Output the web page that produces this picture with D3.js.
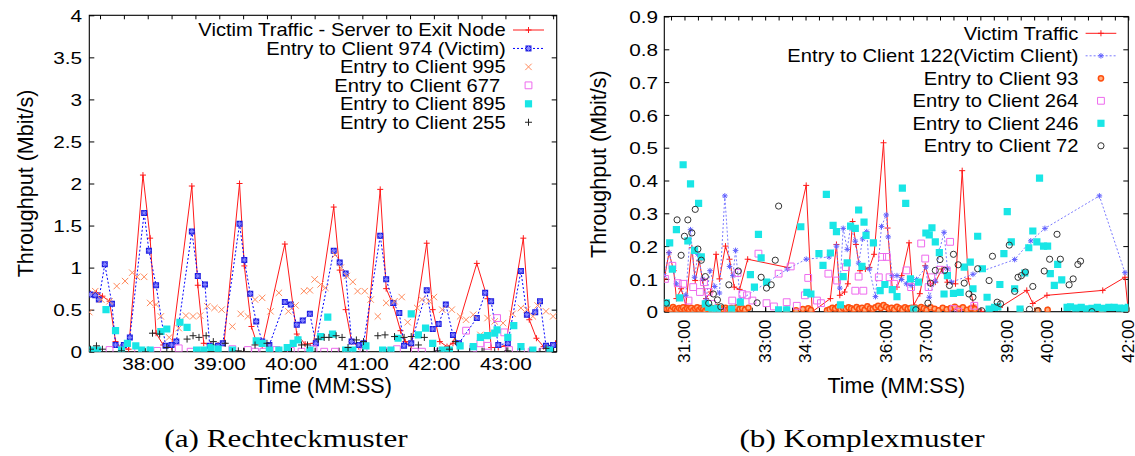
<!DOCTYPE html>
<html><head><meta charset="utf-8">
<script src="https://cdn.jsdelivr.net/npm/d3@7"></script>
<style>body{margin:0;background:#fff}svg text{white-space:pre}</style>
</head><body>
<svg id="c" width="1135" height="456"></svg>
<script>
// ================= DATA: panel (a) Rechteckmuster (time in seconds, value in Mbit/s) =================
const aXTicks = [2280, 2340, 2400, 2460, 2520, 2580];
const aXTickLabels = ["38:00", "39:00", "40:00", "41:00", "42:00", "43:00"];
const aYTicks = [0, 0.5, 1, 1.5, 2, 2.5, 3, 3.5, 4];
const aYTickLabels = ["0", "0.5", "1", "1.5", "2", "2.5", "3", "3.5", "4"];
const aLegend = ["Victim Traffic - Server to Exit Node", "Entry to Client 974 (Victim)", "Entry to Client 995", "Entry to Client 677 ", "Entry to Client 895", "Entry to Client 255"];

const aVictimTraffic = [[2232,0.69],[2237,0.70],[2242,0.66],[2248,0.60],[2253,0.12],[2258,0.04],[2264,0.03],[2276,2.10],[2282,1.35],[2287,0.22],[2293,0.08],[2300,0.06],[2317,1.97],[2322,0.79],[2327,0.10],[2333,0.08],[2339,0.08],[2344,0.10],[2357,2.00],[2361,1.02],[2367,0.30],[2371,0.12],[2376,0.07],[2395,1.28],[2405,0.21],[2412,0.09],[2419,0.10],[2436,1.72],[2441,0.97],[2446,0.50],[2451,0.12],[2457,0.06],[2463,0.10],[2475,1.93],[2480,0.75],[2486,0.55],[2492,0.25],[2496,0.12],[2501,0.07],[2514,1.29],[2519,0.50],[2525,0.12],[2531,0.06],[2536,0.10],[2556,1.05],[2565,0.63],[2568,0.05],[2574,0.05],[2580,0.07],[2595,1.35],[2600,0.38],[2606,0.16],[2612,0.06],[2618,0.07],[2622,0.10]];
const aClient974 = [[2232,0.68],[2236,0.67],[2239,0.62],[2244,1.04],[2250,0.57],[2253,0.08],[2260,0.08],[2265,0.17],[2277,1.65],[2281,1.20],[2287,0.79],[2295,0.07],[2300,0.08],[2304,0.12],[2317,1.43],[2322,0.90],[2328,0.80],[2332,0.07],[2339,0.07],[2343,0.10],[2357,1.52],[2361,1.09],[2366,0.69],[2371,0.36],[2376,0.12],[2382,0.08],[2395,0.59],[2400,0.56],[2405,0.32],[2410,0.37],[2416,0.45],[2421,0.10],[2436,1.20],[2441,1.06],[2446,0.93],[2451,0.12],[2457,0.08],[2461,0.10],[2475,1.38],[2480,0.86],[2486,0.58],[2491,0.46],[2495,0.07],[2501,0.10],[2514,0.73],[2519,0.27],[2524,0.33],[2530,0.56],[2536,0.20],[2541,0.10],[2556,0.40],[2563,0.70],[2568,0.60],[2574,0.08],[2582,0.10],[2593,0.96],[2598,0.44],[2605,0.47],[2609,0.60],[2614,0.07],[2620,0.08]];
const aClient995 = [[2231,0.47],[2236,0.72],[2241,0.62],[2248,0.60],[2254,0.78],[2261,0.84],[2267,0.94],[2271,0.89],[2277,0.89],[2282,0.58],[2287,0.56],[2291,0.42],[2298,0.17],[2306,0.28],[2312,0.43],[2318,0.42],[2324,0.43],[2330,0.54],[2336,0.52],[2342,0.50],[2351,0.30],[2358,0.45],[2364,0.42],[2370,0.62],[2376,0.64],[2383,0.48],[2390,0.70],[2398,0.48],[2404,0.55],[2411,0.72],[2416,0.73],[2420,0.86],[2425,0.80],[2429,0.76],[2437,1.15],[2442,1.00],[2447,0.90],[2452,0.83],[2456,0.72],[2462,0.72],[2467,0.62],[2473,0.42],[2480,0.58],[2487,0.60],[2493,0.65],[2498,0.35],[2506,0.52],[2510,0.62],[2516,0.60],[2520,0.65],[2527,0.50],[2535,0.50],[2542,0.42],[2547,0.38],[2553,0.44],[2559,0.20],[2565,0.40],[2571,0.36],[2578,0.34],[2586,0.45],[2593,0.52],[2598,0.50],[2603,0.42],[2607,0.55],[2614,0.48],[2620,0.42]];
const aClient677 = [[2237,0.0],[2248,0.02],[2272,0.0],[2288,0.01],[2306,0.04],[2316,0.0],[2351,0.03],[2364,0.02],[2370,0.0],[2377,0.0],[2388,0.02],[2400,0.01],[2409,0.0],[2419,0.03],[2428,0.0],[2437,0.0],[2448,0.0],[2461,0.0],[2480,0.0],[2489,0.03],[2504,0.0],[2510,0.0],[2525,0.0],[2547,0.25],[2553,0.04],[2559,0.10],[2565,0.07],[2573,0.40],[2579,0.23],[2583,0.02],[2593,0.0],[2602,0.0],[2611,0.0]];
const aClient895 = [[2232,0.02],[2238,0.02],[2245,0.50],[2253,0.25],[2258,0.02],[2263,0.10],[2270,0.07],[2275,0.02],[2282,0.02],[2291,0.24],[2296,0.27],[2307,0.35],[2313,0.29],[2321,0.02],[2327,0.02],[2333,0.05],[2339,0.03],[2351,0.02],[2371,0.13],[2376,0.10],[2382,0.02],[2390,0.02],[2397,0.05],[2402,0.10],[2406,0.14],[2416,0.02],[2425,0.18],[2431,0.41],[2435,0.21],[2446,0.02],[2452,0.02],[2463,0.07],[2477,0.02],[2484,0.02],[2490,0.16],[2501,0.45],[2507,0.20],[2513,0.28],[2519,0.10],[2527,0.02],[2533,0.02],[2542,0.07],[2553,0.06],[2559,0.17],[2565,0.19],[2571,0.22],[2573,0.26],[2582,0.17],[2587,0.31],[2593,0.06],[2603,0.02],[2617,0.02]];
const aClient255 = [[2232,0.03],[2237,0.07],[2242,0.03],[2258,0.01],[2278,0.0],[2284,0.22],[2290,0.21],[2296,0.05],[2313,0.15],[2318,0.19],[2323,0.17],[2329,0.19],[2335,0.12],[2345,0.10],[2351,0.0],[2356,0.01],[2361,0.0],[2370,0.08],[2380,0.10],[2409,0.08],[2414,0.08],[2423,0.15],[2428,0.17],[2432,0.17],[2438,0.19],[2443,0.17],[2448,0.05],[2455,0.14],[2461,0.12],[2473,0.19],[2479,0.20],[2487,0.18],[2495,0.17],[2501,0.18],[2507,0.08],[2512,0.17],[2523,0.01],[2533,0.03],[2538,0.12],[2550,0.0],[2562,0.0],[2571,0.0],[2582,0.01],[2592,0.0],[2609,0.0],[2614,0.04]];

// ================= DATA: panel (b) Komplexmuster =================
const bXTicks = [1860, 1980, 2040, 2160, 2220, 2340, 2400, 2520];
const bXTickLabels = ["31:00", "33:00", "34:00", "36:00", "37:00", "39:00", "40:00", "42:00"];
const bYTicks = [0, 0.1, 0.2, 0.3, 0.4, 0.5, 0.6, 0.7, 0.8, 0.9];
const bYTickLabels = ["0", "0.1", "0.2", "0.3", "0.4", "0.5", "0.6", "0.7", "0.8", "0.9"];
const bLegend = ["Victim Traffic", "Entry to Client 122(Victim Client)", "Entry to Client 93", "Entry to Client 264", "Entry to Client 246", "Entry to Client 72"];

const bVictimTraffic = [[1830,0.10],[1837,0.18],[1844,0.125],[1848,0.04],[1855,0.07],[1862,0.02],[1871,0.195],[1876,0.095],[1882,0.155],[1887,0.095],[1892,0.04],[1899,0.06],[1907,0.175],[1912,0.10],[1921,0.20],[1927,0.16],[1934,0.075],[1942,0.068],[1954,0.16],[2013,0.135],[2041,0.385],[2050,0.0],[2077,0.04],[2086,0.205],[2091,0.05],[2098,0.06],[2103,0.085],[2110,0.275],[2115,0.205],[2121,0.125],[2129,0.13],[2135,0.135],[2142,0.175],[2156,0.515],[2162,0.255],[2169,0.07],[2176,0.075],[2183,0.11],[2194,0.21],[2201,0.02],[2210,0.055],[2218,0.14],[2226,0.085],[2233,0.09],[2243,0.13],[2251,0.09],[2263,0.085],[2273,0.43],[2282,0.10],[2290,0.02],[2302,0.0],[2329,0.013],[2369,0.065],[2378,0.025],[2399,0.05],[2482,0.065],[2515,0.105],[2520,0.0]];
const bClient122 = [[1830,0.11],[1837,0.18],[1848,0.085],[1862,0.05],[1869,0.25],[1875,0.105],[1880,0.175],[1887,0.10],[1892,0.035],[1898,0.125],[1905,0.077],[1912,0.057],[1920,0.353],[1927,0.138],[1932,0.11],[1936,0.187],[1943,0.036],[2013,0.13],[2041,0.16],[2075,0.167],[2086,0.20],[2091,0.072],[2096,0.254],[2102,0.19],[2107,0.26],[2114,0.215],[2119,0.148],[2125,0.222],[2131,0.244],[2135,0.13],[2144,0.046],[2153,0.26],[2160,0.295],[2163,0.228],[2169,0.11],[2176,0.11],[2183,0.098],[2190,0.085],[2197,0.08],[2205,0.098],[2219,0.136],[2224,0.044],[2233,0.093],[2239,0.185],[2246,0.242],[2251,0.131],[2257,0.09],[2289,0.114],[2351,0.159],[2375,0.216],[2396,0.254],[2477,0.353],[2515,0.119]];
const bClient93 = [[1831,0.012],[1834,0.008],[1837,0.01],[1840,0.006],[1843,0.014],[1846,0.009],[1849,0.005],[1852,0.011],[1855,0.008],[1858,0.013],[1861,0.006],[1864,0.01],[1867,0.007],[1870,0.012],[1873,0.004],[1876,0.009],[1879,0.013],[1882,0.006],[1885,0.011],[1888,0.008],[1891,0.003],[1894,0.01],[1897,0.007],[1900,0.012],[1903,0.005],[1906,0.009],[1909,0.014],[1912,0.004],[1915,0.01],[1918,0.007],[1921,0.012],[1924,0.006],[1927,0.009],[1930,0.011],[1934,0.005],[1938,0.013],[1942,0.008],[1946,0.01],[1950,0.006],[1955,0.012],[2012,0.006],[2026,0.004],[2036,0.008],[2044,0.01],[2048,0.005],[2072,0.004],[2076,0.007],[2080,0.012],[2084,0.009],[2088,0.015],[2092,0.006],[2096,0.011],[2100,0.008],[2104,0.013],[2108,0.01],[2112,0.007],[2116,0.014],[2120,0.009],[2124,0.012],[2128,0.006],[2132,0.016],[2136,0.01],[2140,0.008],[2144,0.013],[2148,0.018],[2152,0.011],[2156,0.02],[2160,0.014],[2164,0.009],[2168,0.012],[2172,0.007],[2176,0.015],[2180,0.01],[2184,0.006],[2188,0.013],[2192,0.009],[2196,0.011],[2200,0.005],[2204,0.012],[2208,0.008],[2212,0.014],[2216,0.01],[2220,0.006],[2226,0.013],[2232,0.009],[2238,0.004],[2244,0.012],[2250,0.007],[2256,0.011],[2262,0.015],[2268,0.009],[2274,0.013],[2280,0.006],[2286,0.01],[2292,0.008],[2360,0.003],[2385,0.004],[2400,0.006],[2480,0.005],[2518,0.008]];
const bClient264 = [[1831,0.10],[1842,0.14],[1850,0.087],[1858,0.085],[1866,0.034],[1873,0.075],[1883,0.06],[1889,0.09],[1896,0.06],[1901,0.024],[1907,0.0],[1915,0.0],[1931,0.034],[1939,0.118],[1946,0.054],[1953,0.05],[1961,0.034],[1970,0.177],[1982,0.026],[1993,0.016],[2000,0.116],[2012,0.029],[2018,0.138],[2027,0.018],[2039,0.05],[2044,0.103],[2057,0.034],[2063,0.026],[2074,0.116],[2087,0.095],[2100,0.136],[2114,0.064],[2119,0.107],[2126,0.064],[2149,0.105],[2154,0.167],[2161,0.167],[2165,0.105],[2172,0.085],[2190,0.126],[2197,0.075],[2212,0.208],[2218,0.162],[2223,0.075],[2227,0.105],[2240,0.128],[2250,0.126],[2255,0.213],[2260,0.008],[2267,0.0],[2291,0.018]];
const bClient246 = [[1833,0.027],[1838,0.21],[1842,0.13],[1848,0.25],[1853,0.042],[1858,0.448],[1865,0.216],[1869,0.39],[1875,0.187],[1881,0.33],[1885,0.167],[1891,0.024],[1896,0.013],[1901,0.008],[1909,0.01],[1930,0.008],[1943,0.029],[1958,0.113],[1964,0.075],[1970,0.236],[1974,0.164],[1982,0.09],[2000,0.006],[2012,0.006],[2033,0.259],[2042,0.059],[2048,0.054],[2060,0.177],[2066,0.141],[2071,0.358],[2077,0.179],[2081,0.263],[2086,0.244],[2092,0.021],[2096,0.107],[2102,0.149],[2107,0.261],[2114,0.254],[2119,0.31],[2124,0.138],[2127,0.273],[2130,0.233],[2141,0.21],[2151,0.064],[2158,0.083],[2169,0.067],[2176,0.046],[2184,0.377],[2189,0.33],[2196,0.10],[2201,0.008],[2208,0.09],[2219,0.24],[2224,0.234],[2228,0.256],[2233,0.213],[2239,0.18],[2246,0.054],[2251,0.11],[2260,0.056],[2270,0.059],[2276,0.136],[2285,0.151],[2289,0.07],[2296,0.23],[2303,0.131],[2310,0.044],[2313,0.008],[2321,0.013],[2326,0.015],[2329,0.083],[2335,0.177],[2340,0.305],[2346,0.213],[2351,0.07],[2359,0.008],[2366,0.118],[2372,0.195],[2378,0.246],[2384,0.213],[2388,0.407],[2394,0.20],[2400,0.20],[2404,0.116],[2410,0.08],[2415,0.144],[2421,0.097],[2429,0.013],[2434,0.015],[2442,0.011],[2450,0.013],[2458,0.009],[2466,0.01],[2474,0.013],[2482,0.01],[2491,0.013],[2499,0.013],[2507,0.011],[2515,0.01],[2520,0.013]];
const bClient72 = [[1833,0.026],[1849,0.28],[1855,0.172],[1860,0.23],[1865,0.28],[1871,0.24],[1876,0.312],[1880,0.191],[1885,0.157],[1891,0.107],[1896,0.026],[1903,0.054],[1909,0.036],[1914,0.015],[1926,0.082],[1940,0.124],[1968,0.027],[1974,0.105],[1982,0.072],[1989,0.082],[1995,0.157],[2000,0.322],[2204,0.006],[2222,0.026],[2226,0.087],[2233,0.126],[2240,0.159],[2247,0.126],[2254,0.08],[2260,0.175],[2267,0.143],[2276,0.087],[2283,0.054],[2289,0.044],[2296,0.131],[2302,0.003],[2313,0.095],[2318,0.169],[2325,0.029],[2330,0.024],[2343,0.203],[2351,0.062],[2356,0.105],[2361,0.11],[2367,0.121],[2373,0.007],[2378,0.077],[2386,0.003],[2395,0.124],[2403,0.16],[2414,0.236],[2419,0.16],[2432,0.082],[2438,0.10],[2445,0.144],[2449,0.154],[2466,0.0]];

const captions = ["(a) Rechteckmuster", "(b) Komplexmuster"];

// ================= RENDERING =================
const SANS = '"Liberation Sans", Arial, Helvetica, sans-serif';
const SERIF = '"Liberation Serif", "Times New Roman", serif';
const svg = d3.select('#c');

function markerPath(type, s) {
  const d = s * 0.72;
  switch (type) {
    case 'plus': return `M${-s},0H${s}M0,${-s}V${s}`;
    case 'cross': return `M${-s},${-s}L${s},${s}M${-s},${s}L${s},${-s}`;
    case 'square': return `M${-s},${-s}H${s}V${s}H${-s}Z`;
    case 'star': return `M${-s},0H${s}M0,${-s}V${s}M${-d},${-d}L${d},${d}M${-d},${d}L${d},${-d}`;
    case 'circle': return `M${s},0A${s},${s} 0 1,1 ${-s},0A${s},${s} 0 1,1 ${s},0Z`;
  }
}
function drawMarker(g, m) {
  if (m.under) g.append('path').attr('d', markerPath(m.under.type, m.under.size)).attr('fill', m.under.fill).attr('stroke', 'none');
  g.append('path').attr('d', markerPath(m.type, m.size))
    .attr('fill', m.fill || 'none').attr('stroke', m.stroke || 'none').attr('stroke-width', m.width || 1);
}
function text(g, x, y, s, o) {
  const t = g.append('text')
    .attr('transform', `translate(${x},${y}) rotate(${o.rotate || 0}) scale(${o.sx || 1},1)`)
    .attr('font-family', o.family || SANS).attr('font-size', o.size)
    .attr('text-anchor', o.anchor || 'middle').attr('fill', '#000').text(s);
  if (o.dy) t.attr('dy', o.dy);
  return t;
}

function panel(cfg) {
  const x = d3.scaleLinear().domain(cfg.xDomain).range([cfg.left, cfg.right]);
  const y = d3.scaleLinear().domain(cfg.yDomain).range([cfg.bottom, cfg.top]);
  const g = svg.append('g');
  const clipId = 'clip' + cfg.id;
  g.append('clipPath').attr('id', clipId).append('rect')
    .attr('x', cfg.left).attr('y', cfg.top - 8).attr('width', cfg.right - cfg.left).attr('height', cfg.bottom - cfg.top + 8);

  const minor = d3.range(cfg.minorStart, cfg.xDomain[1] + 0.1, 20);
  const ax = (gen, tr) => {
    const a = g.append('g').attr('transform', tr).call(gen);
    a.select('.domain').remove();
    a.selectAll('line').attr('stroke', '#000').attr('stroke-width', 1);
    return a;
  };
  ax(d3.axisBottom(x).tickValues(minor).tickSize(-4).tickFormat(''), `translate(0,${cfg.bottom})`);
  ax(d3.axisTop(x).tickValues(minor).tickSize(-4).tickFormat(''), `translate(0,${cfg.top})`);
  ax(d3.axisRight(y).tickValues(cfg.yTicks).tickSize(-5).tickFormat(''), `translate(${cfg.right},0)`);
  const yl = ax(d3.axisLeft(y).tickValues(cfg.yTicks).tickSize(-5).tickPadding(0)
      .tickFormat((d, i) => cfg.yTickLabels[i]), `translate(${cfg.left},0)`);
  yl.selectAll('text').attr('x', null)
    .attr('transform', `translate(${-cfg.yPad},0) scale(${cfg.tickSx},1)`)
    .attr('font-family', SANS).attr('font-size', cfg.tickSize).attr('fill', '#000')
    .attr('dy', '0.36em');
  const xl = ax(d3.axisBottom(x).tickValues(cfg.xTicks).tickSize(-5).tickPadding(0)
      .tickFormat((d, i) => cfg.xTickLabels[i]), `translate(0,${cfg.bottom})`);
  if (cfg.rotateX) {
    xl.selectAll('text').attr('y', null).attr('dy', '0.28em')
      .attr('transform', `translate(0,${cfg.xPad}) rotate(-90)`).attr('text-anchor', 'end')
      .attr('font-family', SANS).attr('font-size', cfg.tickSize).attr('fill', '#000');
  } else {
    xl.selectAll('text').attr('y', null).attr('dy', null)
      .attr('transform', `translate(0,${cfg.xBase}) scale(${cfg.tickSx},1)`)
      .attr('font-family', SANS).attr('font-size', cfg.tickSize).attr('fill', '#000');
  }
  g.append('rect').attr('x', cfg.left).attr('y', cfg.top).attr('width', cfg.right - cfg.left)
    .attr('height', cfg.bottom - cfg.top).attr('fill', 'none').attr('stroke', '#000').attr('stroke-width', 1.1);

  text(g, cfg.yTitleX, (cfg.top + cfg.bottom) / 2, 'Throughput (Mbit/s)', { size: 21.5, rotate: -90, dy: '0.36em' });
  text(g, (cfg.left + cfg.right) / 2, cfg.xTitleY, 'Time (MM:SS)', { size: 21.5 });
  text(svg, cfg.capX, 447, cfg.caption, { size: 26, family: SERIF, sx: 1.2 });

  const data = g.append('g').attr('clip-path', `url(#${clipId})`);
  cfg.series.forEach(s => {
    if (s.line) {
      data.append('path').datum(s.data)
        .attr('d', d3.line().x(d => x(d[0])).y(d => y(d[1])))
        .attr('fill', 'none').attr('stroke', s.line.color).attr('stroke-width', s.line.width || 1)
        .attr('stroke-dasharray', s.line.dash || null);
    }
    s.data.forEach(d => {
      drawMarker(data.append('g').attr('transform', `translate(${x(d[0])},${y(d[1])})`), s.marker);
    });
  });

  cfg.series.forEach((s, i) => {
    const ly = cfg.legendY0 + i * cfg.legendDy;
    text(g, cfg.legendTextX, ly, cfg.legend[i], { size: cfg.legendSize, anchor: 'end', sx: cfg.legendSx, dy: '0.36em' });
    if (s.line) {
      g.append('line').attr('x1', cfg.legendLine[0]).attr('x2', cfg.legendLine[1]).attr('y1', ly).attr('y2', ly)
        .attr('stroke', s.line.color).attr('stroke-width', s.line.width || 1).attr('stroke-dasharray', s.line.dash || null);
    }
    drawMarker(g.append('g').attr('transform', `translate(${(cfg.legendLine[0] + cfg.legendLine[1]) / 2},${ly})`), s.marker);
  });
}

panel({
  id: 'a', xDomain: [2231, 2623], yDomain: [0, 4], left: 89.3, right: 556.7, top: 15.3, bottom: 351.7,
  minorStart: 2240, xTicks: aXTicks, xTickLabels: aXTickLabels, yTicks: aYTicks, yTickLabels: aYTickLabels,
  tickSize: 17.3, tickSx: 1.2, yPad: 7.3, xBase: 18.5, yTitleX: 25, xTitleY: 393,
  caption: captions[0], capX: 286,
  legend: aLegend, legendY0: 30, legendDy: 18.45, legendTextX: 505.8, legendLine: [513, 544], legendSize: 17.7, legendSx: 1.14,
  series: [
    { data: aVictimTraffic, line: { color: '#ff1a1a' }, marker: { type: 'plus', size: 3, stroke: '#ff1a1a' } },
    { data: aClient974, line: { color: '#0000ff', dash: '2,2' }, marker: { type: 'star', size: 2.4, stroke: '#8a8aff', width: 1, under: { type: 'square', size: 3.0, fill: '#1a1ae0' } } },
    { data: aClient995, line: null, marker: { type: 'cross', size: 3.2, stroke: '#ff8a5c' } },
    { data: aClient677, line: null, marker: { type: 'square', size: 3.4, stroke: '#ee6aee' } },
    { data: aClient895, line: null, marker: { type: 'square', size: 3.6, fill: '#19e6e6' } },
    { data: aClient255, line: null, marker: { type: 'plus', size: 3.5, stroke: '#222' } }
  ]
});

panel({
  id: 'b', xDomain: [1830, 2520], yDomain: [0, 0.9], left: 664.3, right: 1128.3, top: 16.5, bottom: 311.7,
  minorStart: 1840, xTicks: bXTicks, xTickLabels: bXTickLabels, yTicks: bYTicks, yTickLabels: bYTickLabels,
  tickSize: 17.3, tickSx: 1.2, yPad: 6.3, rotateX: true, xPad: 8, yTitleX: 598, xTitleY: 393,
  caption: captions[1], capX: 862,
  legend: bLegend, legendY0: 33.3, legendDy: 22.5, legendTextX: 1078.4, legendLine: [1085.6, 1116.3], legendSize: 17.7, legendSx: 1.14,
  series: [
    { data: bVictimTraffic, line: { color: '#ff1a1a' }, marker: { type: 'plus', size: 3, stroke: '#ff1a1a' } },
    { data: bClient122, line: { color: '#7a7aff', dash: '2,2' }, marker: { type: 'star', size: 2.8, stroke: '#6060ff' } },
    { data: bClient93, line: null, marker: { type: 'circle', size: 2.6, stroke: '#ff4d0d', fill: '#ffb080', width: 1.5 } },
    { data: bClient264, line: null, marker: { type: 'square', size: 3.4, stroke: '#ee6aee' } },
    { data: bClient246, line: null, marker: { type: 'square', size: 3.6, fill: '#19e6e6' } },
    { data: bClient72, line: null, marker: { type: 'circle', size: 3.1, stroke: '#333' } }
  ]
});
</script>
</body></html>
